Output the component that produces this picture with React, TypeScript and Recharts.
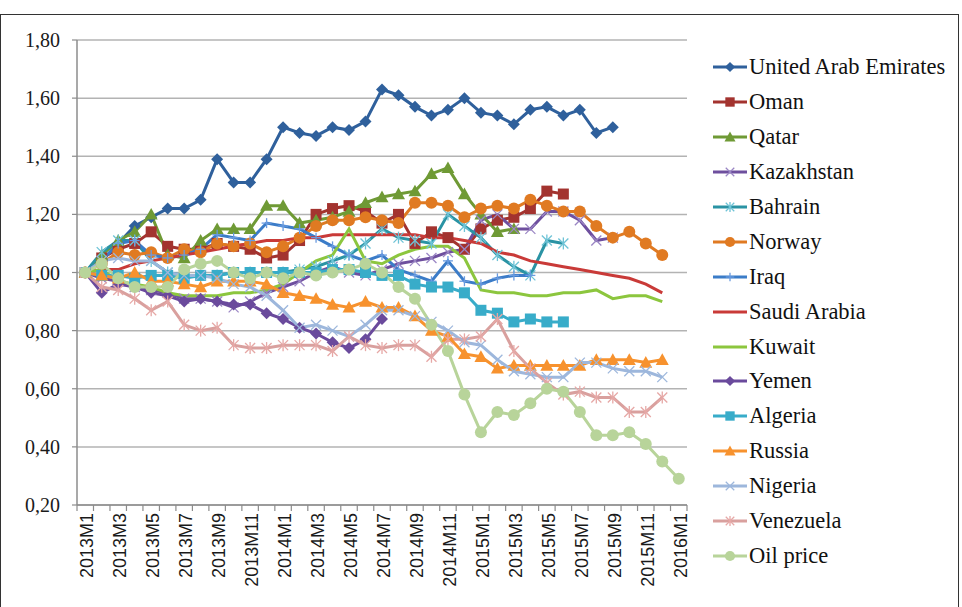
import { LineChart, Line, XAxis, YAxis, CartesianGrid } from "recharts";

const MONTHS = [
  "2013M1", "2013M2", "2013M3", "2013M4", "2013M5", "2013M6", "2013M7", "2013M8", "2013M9", "2013M10", "2013M11", "2013M12",
  "2014M1", "2014M2", "2014M3", "2014M4", "2014M5", "2014M6", "2014M7", "2014M8", "2014M9", "2014M10", "2014M11", "2014M12",
  "2015M1", "2015M2", "2015M3", "2015M4", "2015M5", "2015M6", "2015M7", "2015M8", "2015M9", "2015M10", "2015M11", "2015M12",
  "2016M1",
];
const Y_TICKS = [0.2, 0.4, 0.6, 0.8, 1.0, 1.2, 1.4, 1.6, 1.8];

const UAE = [1.00, 1.04, 1.10, 1.16, 1.19, 1.22, 1.22, 1.25, 1.39, 1.31, 1.31, 1.39, 1.50, 1.48, 1.47, 1.50, 1.49, 1.52, 1.63, 1.61, 1.57, 1.54, 1.56, 1.60, 1.55, 1.54, 1.51, 1.56, 1.57, 1.54, 1.56, 1.48, 1.50];
const OMAN = [1.00, 1.05, 1.08, 1.10, 1.14, 1.09, 1.08, 1.08, 1.10, 1.09, 1.08, 1.05, 1.06, 1.11, 1.20, 1.22, 1.23, 1.21, 1.17, 1.20, 1.10, 1.14, 1.12, 1.08, 1.15, 1.18, 1.19, 1.22, 1.28, 1.27];
const QATAR = [1.00, 1.06, 1.11, 1.14, 1.20, 1.06, 1.05, 1.11, 1.15, 1.15, 1.15, 1.23, 1.23, 1.17, 1.18, 1.19, 1.21, 1.24, 1.26, 1.27, 1.28, 1.34, 1.36, 1.27, 1.20, 1.14, 1.15];
const KAZAKHSTAN = [1.00, 0.98, 0.97, 0.95, 0.94, 0.93, 0.91, 0.91, 0.90, 0.88, 0.90, 0.93, 0.95, 0.97, 1.00, 1.02, 1.00, 0.99, 1.01, 1.03, 1.04, 1.05, 1.07, 1.08, 1.18, 1.20, 1.15, 1.15, 1.21, 1.21, 1.18, 1.11, 1.12];
const BAHRAIN = [1.00, 1.07, 1.11, 1.11, 1.04, 1.00, 0.99, 0.99, 0.99, 1.00, 1.00, 1.00, 1.00, 1.01, 1.02, 1.04, 1.06, 1.10, 1.15, 1.12, 1.11, 1.10, 1.20, 1.16, 1.12, 1.06, 1.02, 0.99, 1.11, 1.10];
const NORWAY = [1.00, 1.03, 1.07, 1.06, 1.07, 1.05, 1.08, 1.07, 1.10, 1.09, 1.10, 1.07, 1.09, 1.12, 1.16, 1.18, 1.18, 1.19, 1.18, 1.17, 1.24, 1.24, 1.23, 1.19, 1.22, 1.23, 1.22, 1.25, 1.23, 1.21, 1.21, 1.16, 1.12, 1.14, 1.10, 1.06];
const IRAQ = [1.00, 1.04, 1.10, 1.11, 1.06, 1.05, 1.06, 1.08, 1.13, 1.12, 1.11, 1.17, 1.16, 1.15, 1.12, 1.09, 1.06, 1.04, 1.06, 1.01, 0.99, 0.97, 1.04, 0.97, 0.96, 0.98, 0.99, 0.99];
const SAUDI = [1.00, 1.01, 1.01, 1.03, 1.04, 1.05, 1.06, 1.07, 1.08, 1.09, 1.10, 1.11, 1.11, 1.12, 1.12, 1.13, 1.13, 1.13, 1.13, 1.13, 1.13, 1.12, 1.12, 1.11, 1.10, 1.07, 1.06, 1.04, 1.03, 1.02, 1.01, 1.00, 0.99, 0.98, 0.96, 0.93];
const KUWAIT = [1.00, 1.01, 0.97, 0.96, 0.95, 0.93, 0.92, 0.92, 0.92, 0.93, 0.93, 0.94, 0.96, 1.00, 1.04, 1.06, 1.15, 1.04, 1.03, 1.06, 1.08, 1.09, 1.09, 1.05, 0.94, 0.93, 0.93, 0.92, 0.92, 0.93, 0.93, 0.94, 0.91, 0.92, 0.92, 0.90];
const YEMEN = [1.00, 0.93, 0.96, 0.95, 0.93, 0.92, 0.90, 0.91, 0.90, 0.89, 0.89, 0.86, 0.84, 0.81, 0.79, 0.76, 0.74, 0.77, 0.84];
const ALGERIA = [1.00, 0.99, 0.99, 0.98, 0.99, 0.99, 0.98, 0.99, 0.99, 1.00, 1.00, 1.00, 1.00, 1.00, 1.00, 1.01, 1.01, 1.00, 0.99, 0.99, 0.96, 0.95, 0.95, 0.93, 0.87, 0.86, 0.83, 0.84, 0.83, 0.83];
const RUSSIA = [1.00, 0.99, 0.98, 1.00, 0.97, 0.97, 0.96, 0.95, 0.97, 0.97, 0.97, 0.96, 0.93, 0.92, 0.91, 0.89, 0.88, 0.90, 0.88, 0.88, 0.85, 0.80, 0.78, 0.72, 0.71, 0.67, 0.68, 0.68, 0.68, 0.68, 0.68, 0.70, 0.70, 0.70, 0.69, 0.70];
const NIGERIA = [1.00, 1.04, 1.05, 1.04, 1.04, 1.00, 0.99, 0.99, 0.98, 0.96, 0.95, 0.92, 0.87, 0.81, 0.82, 0.80, 0.78, 0.82, 0.87, 0.87, 0.85, 0.83, 0.80, 0.76, 0.75, 0.70, 0.66, 0.65, 0.64, 0.64, 0.69, 0.69, 0.67, 0.66, 0.66, 0.64];
const VENEZUELA = [1.00, 0.95, 0.94, 0.91, 0.87, 0.90, 0.82, 0.80, 0.81, 0.75, 0.74, 0.74, 0.75, 0.75, 0.75, 0.73, 0.78, 0.75, 0.74, 0.75, 0.75, 0.71, 0.77, 0.77, 0.78, 0.84, 0.73, 0.67, 0.62, 0.58, 0.59, 0.57, 0.57, 0.52, 0.52, 0.57];
const OIL = [1.00, 1.03, 0.98, 0.95, 0.95, 0.95, 1.01, 1.03, 1.04, 1.00, 0.98, 1.00, 0.98, 1.00, 0.99, 1.00, 1.01, 1.03, 1.00, 0.95, 0.91, 0.82, 0.73, 0.58, 0.45, 0.52, 0.51, 0.55, 0.60, 0.59, 0.52, 0.44, 0.44, 0.45, 0.41, 0.35, 0.29];

type Shape = "diamond" | "square" | "triangle" | "x" | "star" | "circle" | "plus" | "none";

const SERIES: { name: string; values: number[]; color: string; mark: string; shape: Shape }[] = [
  { name: "United Arab Emirates", values: UAE, color: "#2f609c", mark: "#2f609c", shape: "diamond" },
  { name: "Oman", values: OMAN, color: "#a3332f", mark: "#a3332f", shape: "square" },
  { name: "Qatar", values: QATAR, color: "#6f9a35", mark: "#6f9a35", shape: "triangle" },
  { name: "Kazakhstan", values: KAZAKHSTAN, color: "#6e4f9e", mark: "#9a86c4", shape: "x" },
  { name: "Bahrain", values: BAHRAIN, color: "#2a93a4", mark: "#6ec3d6", shape: "star" },
  { name: "Norway", values: NORWAY, color: "#e07a22", mark: "#e07a22", shape: "circle" },
  { name: "Iraq", values: IRAQ, color: "#3b7cc8", mark: "#6a9be0", shape: "plus" },
  { name: "Saudi Arabia", values: SAUDI, color: "#c93a38", mark: "#c93a38", shape: "none" },
  { name: "Kuwait", values: KUWAIT, color: "#8cc63e", mark: "#8cc63e", shape: "none" },
  { name: "Yemen", values: YEMEN, color: "#6a4a9c", mark: "#6a4a9c", shape: "diamond" },
  { name: "Algeria", values: ALGERIA, color: "#38acc9", mark: "#38acc9", shape: "square" },
  { name: "Russia", values: RUSSIA, color: "#f7922e", mark: "#f7922e", shape: "triangle" },
  { name: "Nigeria", values: NIGERIA, color: "#9db7dc", mark: "#9db7dc", shape: "x" },
  { name: "Venezuela", values: VENEZUELA, color: "#d9a09e", mark: "#e6a8a6", shape: "star" },
  { name: "Oil price", values: OIL, color: "#b8d49a", mark: "#b8d49a", shape: "circle" },
];

const data = MONTHS.map((m, i) => {
  const row: Record<string, string | number | null> = { month: m };
  SERIES.forEach((s) => { row[s.name] = i < s.values.length ? s.values[i] : null; });
  return row;
});

const PLOT_LEFT = 77;
const PLOT_RIGHT = 687;
const STEP = (PLOT_RIGHT - PLOT_LEFT) / MONTHS.length;

function Marker({ shape, cx, cy, color, s }: { shape: Shape; cx: number; cy: number; color: string; s: number }) {
  switch (shape) {
    case "diamond":
      return <polygon points={`${cx},${cy - s} ${cx + s},${cy} ${cx},${cy + s} ${cx - s},${cy}`} fill={color} />;
    case "square":
      return <rect x={cx - s} y={cy - s} width={2 * s} height={2 * s} fill={color} />;
    case "triangle":
      return <polygon points={`${cx},${cy - s} ${cx + s},${cy + s * 0.8} ${cx - s},${cy + s * 0.8}`} fill={color} />;
    case "circle":
      return <circle cx={cx} cy={cy} r={s} fill={color} />;
    case "x":
      return (
        <g stroke={color} strokeWidth={1.3}>
          <line x1={cx - s} y1={cy - s} x2={cx + s} y2={cy + s} />
          <line x1={cx - s} y1={cy + s} x2={cx + s} y2={cy - s} />
        </g>
      );
    case "star":
      return (
        <g stroke={color} strokeWidth={1.3}>
          <line x1={cx - s} y1={cy - s} x2={cx + s} y2={cy + s} />
          <line x1={cx - s} y1={cy + s} x2={cx + s} y2={cy - s} />
          <line x1={cx} y1={cy - s * 1.2} x2={cx} y2={cy + s * 1.2} />
        </g>
      );
    case "plus":
      return (
        <g stroke={color} strokeWidth={1.3}>
          <line x1={cx - s} y1={cy} x2={cx + s} y2={cy} />
          <line x1={cx} y1={cy - s} x2={cx} y2={cy + s} />
        </g>
      );
    default:
      return null;
  }
}

const SIZE: Record<Shape, number> = { diamond: 6, square: 5.5, triangle: 6.5, x: 5, star: 5, circle: 6, plus: 5, none: 0 };

function XTick(props: any) {
  const { x, y, payload } = props;
  const idx = MONTHS.indexOf(payload.value);
  const half = STEP / 2;
  return (
    <g>
      <line x1={x - half} x2={x - half} y1={y} y2={y + 6} stroke="#8c8c8c" strokeWidth={1.2} />
      {idx === MONTHS.length - 1 && <line x1={x + half} x2={x + half} y1={y} y2={y + 6} stroke="#8c8c8c" strokeWidth={1.2} />}
      {idx % 2 === 0 && (
        <text
          transform={`translate(${x + 8},${y + 8}) rotate(-90)`}
          textAnchor="end"
          fontSize={18}
          fontFamily="'Liberation Sans', Arial, sans-serif"
          fill="#1a1a1a"
        >
          {payload.value}
        </text>
      )}
    </g>
  );
}

export default function App() {
  return (
    <div style={{ position: "absolute", left: 0, top: 0, width: 962, height: 607, background: "#fff", overflow: "hidden" }}>
      {/* frame */}
      <div style={{ position: "absolute", left: 0, top: 14, width: 957, height: 600, borderLeft: "1.5px solid #333", borderRight: "1.5px solid #333", borderTop: "1.5px solid #333" }} />

      <LineChart width={962} height={607} data={data} margin={{ top: 40, right: 275, bottom: 0, left: 0 }}>
        <CartesianGrid vertical={false} stroke="#b3b3b3" strokeWidth={1.5} />
        <XAxis
          dataKey="month"
          interval={0}
          height={102}
          padding={{ left: STEP / 2, right: STEP / 2 }}
          tickLine={false}
          tickSize={0}
          tickMargin={0}
          axisLine={{ stroke: "#8c8c8c", strokeWidth: 1.5 }}
          tick={<XTick />}
        />
        <YAxis
          width={77}
          domain={[0.2, 1.8]}
          ticks={Y_TICKS}
          interval={0}
          tickFormatter={(v: number) => v.toFixed(2).replace(".", ",")}
          tickSize={5}
          tickMargin={12}
          tickLine={{ stroke: "#8c8c8c", strokeWidth: 1.2 }}
          axisLine={{ stroke: "#8c8c8c", strokeWidth: 1.5 }}
          tick={{ fontSize: 20, fontFamily: "'Liberation Serif', 'Times New Roman', serif", fill: "#1a1a1a" }}
        />
        {SERIES.map((s) => (
          <Line
            key={s.name}
            dataKey={s.name}
            stroke={s.color}
            strokeWidth={3}
            isAnimationActive={false}
            activeDot={false}
            dot={
              s.shape === "none"
                ? false
                : (p: any) =>
                    p.cx == null || p.cy == null || p.value == null ? (
                      <g key={`${s.name}-${p.index}`} />
                    ) : (
                      <g key={`${s.name}-${p.index}`}>
                        <Marker shape={s.shape} cx={p.cx} cy={p.cy} color={s.mark} s={SIZE[s.shape]} />
                      </g>
                    )
            }
          />
        ))}
      </LineChart>

      {/* legend */}
      <div style={{ position: "absolute", left: 712, top: 50 }}>
        {SERIES.map((s) => (
          <div key={s.name} style={{ display: "flex", alignItems: "center", height: 34.9 }}>
            <svg width={36} height={20} style={{ flex: "none" }}>
              <line x1={1} y1={10} x2={35} y2={10} stroke={s.color} strokeWidth={3} />
              <Marker shape={s.shape} cx={18} cy={10} color={s.mark} s={SIZE[s.shape] * 0.85} />
            </svg>
            <span style={{ fontFamily: "'Liberation Serif', 'Times New Roman', serif", fontSize: 22.5, color: "#111", marginLeft: 1, whiteSpace: "nowrap" }}>
              {s.name}
            </span>
          </div>
        ))}
      </div>
    </div>
  );
}
